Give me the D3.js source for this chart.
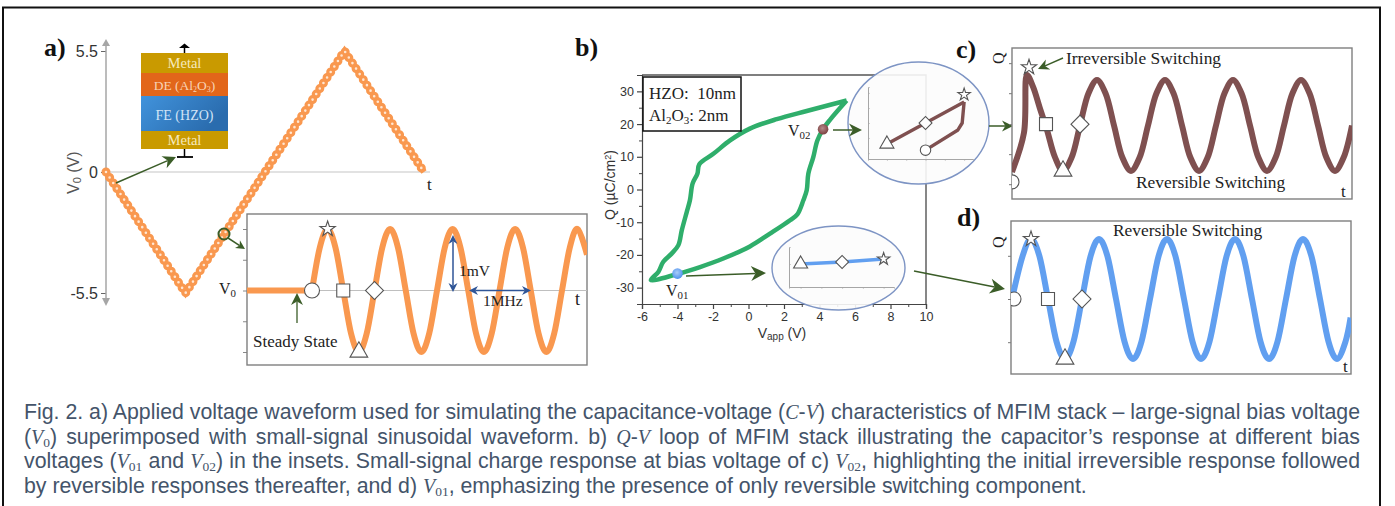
<!DOCTYPE html>
<html>
<head>
<meta charset="utf-8">
<script src="https://cdn.jsdelivr.net/npm/d3@7"></script>
<style>
  html, body { margin: 0; padding: 0; background: #fff; overflow: hidden; }
  #fig { position: absolute; left: 0; top: 0; }
  .cap { position: absolute; left: 24px; width: 1336px; height: 24px; line-height: 24px; font-family: "Liberation Sans", Arial, sans-serif; font-size: 21.3px; color: #44546a; text-align: justify; text-align-last: justify; }
  .cap.last { text-align: left; text-align-last: left; width: 1340px; }
  .cap i { font-family: "Liberation Serif", serif; font-size: 20px; }
  .cap sub { font-family: "Liberation Serif", serif; font-size: 13.5px; line-height: 0; vertical-align: -3px; }
</style>
</head>
<body>
<svg id="fig" width="1395" height="506"></svg>
<div class="cap" style="top:400px">Fig. 2. a) Applied voltage waveform used for simulating the capacitance-voltage (<i>C</i>-<i>V</i>) characteristics of MFIM stack – large-signal bias voltage</div>
<div class="cap" style="top:425px">(<i>V</i><sub>0</sub>) superimposed with small-signal sinusoidal waveform. b) <i>Q</i>-<i>V</i> loop of MFIM stack illustrating the capacitor’s response at different bias</div>
<div class="cap" style="top:449px">voltages (<i>V</i><sub>01</sub> and <i>V</i><sub>02</sub>) in the insets. Small-signal charge response at bias voltage of c) <i>V</i><sub>02</sub>, highlighting the initial irreversible response followed</div>
<div class="cap last" style="top:474px">by reversible responses thereafter, and d) <i>V</i><sub>01</sub>, emphasizing the presence of only reversible switching component.</div>
<script>
// panel a, large signal bias
var biasTime = [0, 1, 3, 4];
var biasVolt = [0, -5.5, 5.5, 0];
var biasTicks = [5.5, 0, -5.5];

// panel a inset, small signal in mV, t in cycles
var steadyTime = [-1.04, 0];
var steadyVolt = [0, 0];
var smallTime = [0, 0.125, 0.25, 0.375, 0.5, 0.625, 0.75, 0.875, 1, 1.125, 1.25, 1.375, 1.5, 1.625, 1.75, 1.875, 2, 2.125, 2.25, 2.375, 2.5, 2.625, 2.75, 2.875, 3, 3.125, 3.25, 3.375, 3.5, 3.625, 3.75, 3.875, 4, 4.125, 4.25, 4.4];
var smallVolt = [0, 0.35, 0.5, 0.35, 0, -0.35, -0.5, -0.35, 0, 0.35, 0.5, 0.35, 0, -0.35, -0.5, -0.35, 0, 0.35, 0.5, 0.35, 0, -0.35, -0.5, -0.35, 0, 0.35, 0.5, 0.35, 0, -0.35, -0.5, -0.35, 0, 0.35, 0.5, 0.29];
var smallTicks = [0.5, 0.25, 0, -0.25, -0.5];

// panel b, Q-V loop
var loopV = [5.53, 3.28, 1.59, 0.08, -1.04, -1.98, -2.77, -2.88, -3.15, -3.3, -3.48, -3.76, -3.95, -4.33, -4.8, -5.08, -5.5, -4.05, -2.73, -1.42, 0.08, 1.21, 2.34, 2.75, 3.09, 3.28, 3.37, 3.65, 3.88, 4.22, 4.59, 5.53];
var loopQ = [27.2, 24, 21.5, 18.6, 15, 10.9, 7.7, 4.8, 1.8, -3.3, -6.9, -12.5, -17, -19.6, -22.1, -25.2, -27.7, -25.9, -23.7, -21.1, -17.4, -13.5, -9.4, -7.6, -3.3, -0.25, 4.8, 9.9, 15, 18.6, 21.3, 27.2];
var vTicks = [-6, -4, -2, 0, 2, 4, 6, 8, 10];
var vMinor = [-5, -3, -1, 1, 3, 5, 7, 9];
var qTicks = [30, 20, 10, 0, -10, -20, -30];
var qMinor = [25, 15, 5, -5, -15, -25];
var v01 = [-4, -25.7];
var v02 = [4.2, 18.4];

// b insets
var upperV1 = [-1, 0, 1];
var upperQ1 = [-1, 0, 1];
var upperV2 = [0, 0.84, 0.95, 1];
var upperQ2 = [-1.29, -0.33, 0, 1];
var upperTickV = [-1, -0.5, 0, 0.5, 1];
var upperTickQ = [1.43, 0.71, 0, -0.71, -1.43];
var lowerV = [-1, 0, 1];
var lowerQ = [1.5, 2.5, 4];
var lowerTickV = [-1, -0.5, 0, 0.5, 1];
var lowerTickQ = [1.5];

// panel c, irreversible then reversible
var cTime = [0, 0.176, 0.22, 0.31, 0.41, 0.515, 0.63, 0.75, 0.875, 1, 1.125, 1.25, 1.375, 1.5, 1.625, 1.75, 1.875, 2, 2.125, 2.25, 2.375, 2.5, 2.625, 2.75, 2.875, 3, 3.125, 3.25, 3.375, 3.5, 3.625, 3.75, 3.875, 4, 4.125, 4.25, 4.375, 4.5, 4.625, 4.75, 4.875, 5];
var cQ = [-1.02, -0.16, 1.11, 0.85, 0.38, -0.1, -0.69, -1, -0.71, 0, 0.71, 1, 0.71, 0, -0.71, -1, -0.71, 0, 0.71, 1, 0.71, 0, -0.71, -1, -0.71, 0, 0.71, 1, 0.71, 0, -0.71, -1, -0.71, 0, 0.71, 1, 0.71, 0, -0.71, -1, -0.71, 0];
var cTicks = [1.37, 0.71, 0.03, -0.63, -1.29];

// panel d, reversible only
var dTime = [-0.03, 0.125, 0.25, 0.375, 0.5, 0.625, 0.75, 0.875, 1, 1.125, 1.25, 1.375, 1.5, 1.625, 1.75, 1.875, 2, 2.125, 2.25, 2.375, 2.5, 2.625, 2.75, 2.875, 3, 3.125, 3.25, 3.375, 3.5, 3.625, 3.75, 3.875, 4, 4.125, 4.25, 4.375, 4.5, 4.625, 4.75, 4.875, 4.95];
var dQ = [0, 0.71, 1, 0.71, 0, -0.71, -1, -0.71, 0, 0.71, 1, 0.71, 0, -0.71, -1, -0.71, 0, 0.71, 1, 0.71, 0, -0.71, -1, -0.71, 0, 0.71, 1, 0.71, 0, -0.71, -1, -0.71, 0, 0.71, 1, 0.71, 0, -0.71, -1, -0.71, -0.31];
var dTicks = [0.72, 0, -0.72];

var SERIF = '"Liberation Serif", "Times New Roman", serif';
var SANS = '"Liberation Sans", Arial, sans-serif';
var GREEN = "#3b5d28";
var BLUE = "#2f5597";
var ORANGE = "#f9984f";
var BROWN = "#7f5050";
var SKY = "#619ff0";

var svg = d3.select("#fig");
var defs = svg.append("defs");

// figure border, open at the bottom
svg.append("path")
    .attr("d", d3.line()([[3, 506], [3, 7.5], [1380, 7.5], [1380, 506]]))
    .attr("fill", "none").attr("stroke", "#111").attr("stroke-width", 2);

function zip(a, b) {
    return a.map(function (d, i) { return [d, b[i]]; });
}

function text(g, x, y, str, size, font, opts) {
    opts = opts || {};
    return g.append("text")
        .attr("x", x).attr("y", y)
        .attr("font-family", font || SERIF)
        .attr("font-size", size)
        .attr("fill", opts.fill || "#222")
        .attr("font-weight", opts.weight || null)
        .attr("text-anchor", opts.anchor || "start")
        .attr("transform", opts.rotate ? "rotate(" + opts.rotate + " " + x + " " + y + ")" : null)
        .text(str);
}

function withSub(g, x, y, base, sub, size) {
    var t = text(g, x, y, base, size);
    t.append("tspan").attr("dy", 3).attr("font-size", size * 0.68).text(sub);
    return t;
}

function arrow(g, x1, y1, x2, y2, color, w, head) {
    head = head || 13;
    var a = Math.atan2(y2 - y1, x2 - x1);
    var bx = x2 - Math.cos(a) * head * 0.7, by = y2 - Math.sin(a) * head * 0.7;
    g.append("line").attr("x1", x1).attr("y1", y1).attr("x2", bx).attr("y2", by)
        .attr("stroke", color).attr("stroke-width", w);
    var hw = head * 0.5;
    var p = [
        [x2, y2],
        [x2 - Math.cos(a) * head - Math.sin(a) * hw, y2 - Math.sin(a) * head + Math.cos(a) * hw],
        [bx, by],
        [x2 - Math.cos(a) * head + Math.sin(a) * hw, y2 - Math.sin(a) * head - Math.cos(a) * hw]
    ];
    g.append("path").attr("d", d3.line()(p) + "Z").attr("fill", color);
}

function marker(g, type, x, y, size, rot) {
    g.append("path")
        .attr("d", d3.symbol().type(type).size(size)())
        .attr("transform", "translate(" + x + "," + y + ")" + (rot ? " rotate(" + rot + ")" : ""))
        .attr("fill", "#fff")
        .attr("stroke", "#555")
        .attr("stroke-width", 1.1);
}

function clip(id, x, y, w, h) {
    defs.append("clipPath").attr("id", id).append("rect")
        .attr("x", x).attr("y", y).attr("width", w).attr("height", h);
    return "url(#" + id + ")";
}

function styleAxis(g, color, w, fontSize) {
    g.selectAll("path, line").attr("stroke", color).attr("stroke-width", w);
    g.selectAll("text").attr("font-family", SANS).attr("font-size", fontSize).attr("fill", "#333");
}

var wave = d3.line().curve(d3.curveCatmullRom.alpha(0));
var WAVE_W = 6;

// ---- a) bias waveform ----
var a = svg.append("g");
var xA = d3.scaleLinear().domain([0, 4]).range([106, 424]);
var yA = d3.scaleLinear().domain([-5.5, 5.5]).range([293, 51]);

a.append("line").attr("x1", 106).attr("x2", 430).attr("y1", yA(0)).attr("y2", yA(0))
    .attr("stroke", "#d9d9d9").attr("stroke-width", 1.3);
var axA = a.append("g").attr("transform", "translate(106,0)")
    .call(d3.axisLeft(yA).tickValues(biasTicks).tickSizeOuter(0).tickSize(5).tickPadding(3)
        .tickFormat(function (d) { return d; }));
axA.select(".domain").remove();
styleAxis(axA, "#666", 1, 16);
a.append("line").attr("x1", 106).attr("x2", 106).attr("y1", 42).attr("y2", 300)
    .attr("stroke", "#a6a6a6").attr("stroke-width", 1.5);
a.append("path").attr("d", "M106,39L102,46L110,46Z").attr("fill", "#a6a6a6");
a.append("path").attr("d", "M106,306L102,298L110,298Z").attr("fill", "#a6a6a6");

var biasPts = zip(biasTime.map(xA), biasVolt.map(yA));
var biasLine = d3.line()(biasPts);
a.append("path").attr("d", biasLine).attr("fill", "none").attr("stroke", ORANGE).attr("stroke-width", 6);
a.append("path").attr("d", biasLine).attr("fill", "none").attr("stroke", ORANGE).attr("stroke-width", 9)
    .attr("stroke-linecap", "round").attr("stroke-dasharray", "0 6.6");
a.append("path").attr("d", biasLine).attr("fill", "none").attr("stroke", "#ffe6d2").attr("stroke-width", 2.6)
    .attr("stroke-linecap", "round").attr("stroke-dasharray", "0 6.6");

text(a, 44, 56, "a)", 26, SERIF, { weight: "bold", fill: "#111" });
var v0Lab = text(a, 79, 194, "V", 16, SANS, { fill: "#555", rotate: -90 });
v0Lab.append("tspan").attr("font-size", 11).attr("dy", 2).text("0");
v0Lab.append("tspan").attr("dy", -2).text(" (V)");
text(a, 427, 190, "t", 17, SERIF, { fill: "#222" });

// stack
var stack = svg.append("g");
var fe = defs.append("linearGradient").attr("id", "feGrad").attr("x1", 0).attr("y1", 0).attr("x2", 1).attr("y2", 0.4);
fe.append("stop").attr("offset", "0%").attr("stop-color", "#4193dc");
fe.append("stop").attr("offset", "100%").attr("stop-color", "#2a6cae");
stack.append("rect").attr("x", 141).attr("y", 53).attr("width", 87).attr("height", 20).attr("fill", "#c99a00");
stack.append("rect").attr("x", 141).attr("y", 73).attr("width", 87).attr("height", 23).attr("fill", "#e2661a");
stack.append("rect").attr("x", 141).attr("y", 96).attr("width", 87).attr("height", 35).attr("fill", "url(#feGrad)");
stack.append("rect").attr("x", 141).attr("y", 131).attr("width", 87).attr("height", 18).attr("fill", "#c99a00");
text(stack, 184.5, 68, "Metal", 14.5, SERIF, { fill: "#f6e9bd", anchor: "middle" });
var deLab = text(stack, 184.5, 90, "DE (Al", 13.5, SERIF, { fill: "#f8d3b4", anchor: "middle" });
deLab.append("tspan").attr("font-size", 8).attr("dy", 2).text("2");
deLab.append("tspan").attr("dy", -2).text("O");
deLab.append("tspan").attr("font-size", 8).attr("dy", 2).text("3");
deLab.append("tspan").attr("dy", -2).text(")");
text(stack, 184.5, 120, "FE (HZO)", 14, SERIF, { fill: "#d2e4f6", anchor: "middle" });
text(stack, 184.5, 145, "Metal", 14.5, SERIF, { fill: "#f6e9bd", anchor: "middle" });
stack.append("line").attr("x1", 184.5).attr("x2", 184.5).attr("y1", 45).attr("y2", 53).attr("stroke", "#000").attr("stroke-width", 1.5);
stack.append("path").attr("d", "M179,48L184.5,43.5L190,48Z").attr("fill", "#000");
stack.append("line").attr("x1", 184.5).attr("x2", 184.5).attr("y1", 149).attr("y2", 157).attr("stroke", "#000").attr("stroke-width", 1.5);
stack.append("line").attr("x1", 177).attr("x2", 193).attr("y1", 157).attr("y2", 157).attr("stroke", "#000").attr("stroke-width", 1.8);
arrow(a, 116, 183, 176, 157, GREEN, 1.5, 13);

// ---- a) inset ----
var ai = svg.append("g");
var xI = d3.scaleLinear().domain([0, 4]).range([312, 562]);
var yI = d3.scaleLinear().domain([-0.5, 0.5]).range([352, 229]);
var axI = ai.append("g").attr("transform", "translate(247,0)")
    .call(d3.axisLeft(yI).tickValues(smallTicks).tickSize(4).tickFormat(""));
axI.select(".domain").remove();
styleAxis(axI, "#888", 1, 10);
ai.append("rect").attr("x", 247).attr("y", 214).attr("width", 340).attr("height", 151)
    .attr("fill", "#fff").attr("stroke", "#7f7f7f").attr("stroke-width", 1.4);
ai.append("line").attr("x1", 247).attr("x2", 587).attr("y1", yI(0)).attr("y2", yI(0))
    .attr("stroke", "#bfbfbf").attr("stroke-width", 1);
var clipI = clip("clipI", 247, 214, 340, 151);
ai.append("path").attr("d", d3.line()(zip(steadyTime.map(xI), steadyVolt.map(yI))))
    .attr("fill", "none").attr("stroke", ORANGE).attr("stroke-width", WAVE_W).attr("clip-path", clipI);
ai.append("path").attr("d", wave(zip(smallTime.map(xI), smallVolt.map(yI))))
    .attr("fill", "none").attr("stroke", ORANGE).attr("stroke-width", WAVE_W).attr("clip-path", clipI);
marker(ai, d3.symbolCircle, xI(0), yI(0), 177);
marker(ai, d3.symbolStar, xI(0.25), yI(0.5), 72);
marker(ai, d3.symbolSquare, xI(0.5), yI(0), 169);
marker(ai, d3.symbolTriangle, xI(0.75), yI(-0.5), 136);
marker(ai, d3.symbolSquare, xI(1), yI(0), 162, 45);

withSub(ai, 219, 294, "V", "0", 16);
text(ai, 253, 347, "Steady State", 17);
text(ai, 459, 276, "1mV", 15.5);
text(ai, 483, 306, "1MHz", 15.5);
text(ai, 575, 305, "t", 18);
arrow(ai, 297, 323, 297, 293, GREEN, 1.3, 12);
arrow(ai, 453, 264, 453, 235, BLUE, 1.5, 9);
arrow(ai, 453, 264, 453, 292, BLUE, 1.5, 9);
arrow(ai, 500, 290.5, 469, 290.5, BLUE, 1.5, 9);
arrow(ai, 500, 290.5, 531, 290.5, BLUE, 1.5, 9);
ai.append("circle").attr("cx", 224).attr("cy", 234).attr("r", 5.5)
    .attr("fill", "none").attr("stroke", GREEN).attr("stroke-width", 2);
arrow(ai, 228, 238, 245, 249, GREEN, 1.5, 9);

// ---- b) loop ----
var b = svg.append("g");
var xB = d3.scaleLinear().domain([-6, 10]).range([642, 926]);
var yB = d3.scaleLinear().domain([-35, 35]).range([304, 75]);

var bGrid = b.append("g");
bGrid.append("path").attr("d", d3.line()([[xB(-6), yB(35)], [xB(10), yB(35)], [xB(10), yB(-35)]]))
    .attr("fill", "none").attr("stroke", "#555").attr("stroke-width", 1.4);
var axBx = b.append("g").attr("transform", "translate(0," + yB(-35) + ")")
    .call(d3.axisBottom(xB).tickValues(vTicks).tickSizeOuter(0).tickSize(5).tickPadding(3)
        .tickFormat(function (d) { return d; }));
styleAxis(axBx, "#444", 1.2, 12.5);
var minorX = b.append("g").attr("transform", "translate(0," + yB(-35) + ")")
    .call(d3.axisBottom(xB).tickValues(vMinor).tickSizeOuter(0).tickSize(3).tickFormat(""));
minorX.select(".domain").remove();
styleAxis(minorX, "#444", 1, 10);
var axBy = b.append("g").attr("transform", "translate(" + xB(-6) + ",0)")
    .call(d3.axisLeft(yB).tickValues(qTicks).tickSizeOuter(0).tickSize(5).tickPadding(3)
        .tickFormat(function (d) { return d; }));
styleAxis(axBy, "#444", 1.2, 12.5);
var minorY = b.append("g").attr("transform", "translate(" + xB(-6) + ",0)")
    .call(d3.axisLeft(yB).tickValues(qMinor).tickSizeOuter(0).tickSize(3).tickFormat(""));
minorY.select(".domain").remove();
styleAxis(minorY, "#444", 1, 10);

b.append("path").attr("d", d3.line().curve(d3.curveCatmullRom.alpha(0.5))(zip(loopV.map(xB), loopQ.map(yB))))
    .attr("fill", "none").attr("stroke", "#2fae6b").attr("stroke-width", 4.5).attr("stroke-linejoin", "round");

function ball(id, c0, c1, pt) {
    var g = defs.append("radialGradient").attr("id", id).attr("cx", "45%").attr("cy", "40%").attr("r", "60%");
    g.append("stop").attr("offset", "0%").attr("stop-color", c0);
    g.append("stop").attr("offset", "100%").attr("stop-color", c1);
    b.append("circle").attr("cx", xB(pt[0])).attr("cy", yB(pt[1])).attr("r", 5.3).attr("fill", "url(#" + id + ")");
}
ball("ball1", "#a9ccf8", "#4f92ee", v01);
ball("ball2", "#b58a8a", "#7a3f3f", v02);
withSub(b, 666, 296, "V", "01", 16);
withSub(b, 788, 136, "V", "02", 16);

var xLab = text(b, 782, 338, "V", 14, SANS, { fill: "#333", anchor: "middle" });
xLab.append("tspan").attr("font-size", 10).attr("dy", 2).text("app");
xLab.append("tspan").attr("dy", -2).text(" (V)");
var qLab = text(b, 615, 185, "Q (µC/cm", 14, SANS, { fill: "#333", anchor: "middle", rotate: -90 });
qLab.append("tspan").attr("font-size", 9).attr("dy", -4).text("2");
qLab.append("tspan").attr("dy", 4).text(")");

b.append("rect").attr("x", 643).attr("y", 77).attr("width", 98).attr("height", 54)
    .attr("fill", "#fff").attr("stroke", "#111").attr("stroke-width", 1.5);
text(b, 649, 99, "HZO:  10nm", 17).attr("xml:space", "preserve");
var alLab = text(b, 649, 121, "Al", 17);
alLab.append("tspan").attr("font-size", 11).attr("dy", 3).text("2");
alLab.append("tspan").attr("dy", -3).text("O");
alLab.append("tspan").attr("font-size", 11).attr("dy", 3).text("3");
alLab.append("tspan").attr("dy", -3).text(":  2nm");

// upper inset circle
var up = svg.append("g");
up.append("ellipse").attr("cx", 918.5).attr("cy", 123).attr("rx", 70.5).attr("ry", 61)
    .attr("fill", "#fcfcfc").attr("fill-opacity", 0.9).attr("stroke", "#7d94c4").attr("stroke-width", 1.4);
var xU = d3.scaleLinear().domain([-1.49, 1.23]).range([868, 973]);
var yU = d3.scaleLinear().domain([-1.71, 1.71]).range([159, 87]);
var axUx = up.append("g").attr("transform", "translate(0,159)")
    .call(d3.axisBottom(xU).tickValues(upperTickV).tickSizeOuter(0).tickSize(1.5).tickFormat(""));
styleAxis(axUx, "#a6a6a6", 1, 8);
var axUy = up.append("g").attr("transform", "translate(868,0)")
    .call(d3.axisRight(yU).tickValues(upperTickQ).tickSizeOuter(0).tickSize(1.5).tickFormat(""));
styleAxis(axUy, "#a6a6a6", 1, 8);
up.append("path").attr("d", d3.line()(zip(upperV1.map(xU), upperQ1.map(yU))))
    .attr("fill", "none").attr("stroke", BROWN).attr("stroke-width", 3.4);
up.append("path").attr("d", d3.line()(zip(upperV2.map(xU), upperQ2.map(yU))))
    .attr("fill", "none").attr("stroke", BROWN).attr("stroke-width", 3.4).attr("stroke-linejoin", "round");
marker(up, d3.symbolTriangle, xU(-1), yU(-1), 85);
marker(up, d3.symbolSquare, xU(0), yU(0), 84, 45);
marker(up, d3.symbolCircle, xU(0), yU(-1.29), 85);
marker(up, d3.symbolStar, xU(1), yU(1.35), 48);

// lower inset circle
var low = svg.append("g");
low.append("ellipse").attr("cx", 838.5).attr("cy", 268).attr("rx", 66.5).attr("ry", 42)
    .attr("fill", "#fcfcfc").attr("fill-opacity", 0.9).attr("stroke", "#7d94c4").attr("stroke-width", 1.4);
var xL = d3.scaleLinear().domain([-1.28, 1.25]).range([789, 894]);
var yL = d3.scaleLinear().domain([-10, 10]).range([287, 247]);
var axLx = low.append("g").attr("transform", "translate(0,287)")
    .call(d3.axisBottom(xL).tickValues(lowerTickV).tickSizeOuter(0).tickSize(1.5).tickFormat(""));
styleAxis(axLx, "#a6a6a6", 1, 8);
var axLy = low.append("g").attr("transform", "translate(789,0)")
    .call(d3.axisRight(yL).tickValues(lowerTickQ).tickSizeOuter(0).tickSize(1.5).tickFormat(""));
styleAxis(axLy, "#a6a6a6", 1, 8);
low.append("path").attr("d", d3.line()(zip(lowerV.map(xL), lowerQ.map(yL))))
    .attr("fill", "none").attr("stroke", SKY).attr("stroke-width", 3.6);
marker(low, d3.symbolTriangle, xL(-1), yL(1.5), 85);
marker(low, d3.symbolSquare, xL(0), yL(2.5), 84, 45);
marker(low, d3.symbolStar, xL(1), yL(4), 48);

// connector arrows in b
arrow(svg, 686, 276, 766, 273, GREEN, 1.5, 15);
arrow(svg, 833, 130, 862, 130, GREEN, 1.5, 13);
arrow(svg, 989, 126, 1013, 126, GREEN, 1.5, 11);
arrow(svg, 914, 271, 1005, 289, GREEN, 1.6, 15);

text(svg, 575, 56, "b)", 26, SERIF, { weight: "bold", fill: "#111" });

// ---- c) ----
var c = svg.append("g");
var xC = d3.scaleLinear().domain([0, 5]).range([1012, 1352]);
var yC = d3.scaleLinear().domain([-1, 1]).range([171, 80]);
var axC = c.append("g").attr("transform", "translate(1012,0)")
    .call(d3.axisLeft(yC).tickValues(cTicks).tickSize(3).tickFormat(""));
axC.select(".domain").remove();
styleAxis(axC, "#777", 1, 8);
c.append("rect").attr("x", 1012).attr("y", 48).attr("width", 340).attr("height", 151)
    .attr("fill", "#fff").attr("stroke", "#7f7f7f").attr("stroke-width", 1.4);
var clipC = clip("clipC", 1012, 48, 340, 151);
c.append("path").attr("d", d3.line().curve(d3.curveCatmullRom.alpha(0.5))(zip(cTime.map(xC), cQ.map(yC))))
    .attr("fill", "none").attr("stroke", BROWN).attr("stroke-width", WAVE_W).attr("clip-path", clipC);
var cm = c.append("g").attr("clip-path", clipC);
marker(cm, d3.symbolCircle, xC(0), yC(-1.24), 154);
marker(c, d3.symbolStar, xC(0.25), yC(1.28), 72);
marker(c, d3.symbolSquare, xC(0.5), yC(0.03), 169);
marker(c, d3.symbolTriangle, xC(0.75), yC(-1), 136);
marker(c, d3.symbolSquare, xC(1), yC(0.03), 162, 45);
text(c, 956, 58, "c)", 26, SERIF, { weight: "bold", fill: "#111" });
text(c, 1004, 64, "Q", 16, SERIF, { rotate: -90 });
text(c, 1066, 64, "Irreversible Switching", 17.4);
text(c, 1136, 188, "Reversible Switching", 17.4);
text(c, 1341, 197, "t", 17);
arrow(c, 1063, 58, 1038, 69, GREEN, 1.4, 11);

// ---- d) ----
var d = svg.append("g");
var xD = d3.scaleLinear().domain([0, 5]).range([1014, 1354]);
var yD = d3.scaleLinear().domain([-1, 1]).range([359, 239]);
var axD = d.append("g").attr("transform", "translate(1011,0)")
    .call(d3.axisLeft(yD).tickValues(dTicks).tickSize(3).tickFormat(""));
axD.select(".domain").remove();
styleAxis(axD, "#777", 1, 8);
d.append("rect").attr("x", 1011).attr("y", 221).attr("width", 340).attr("height", 153)
    .attr("fill", "#fff").attr("stroke", "#7f7f7f").attr("stroke-width", 1.4);
var clipD = clip("clipD", 1011, 221, 340, 153);
d.append("path").attr("d", wave(zip(dTime.map(xD), dQ.map(yD))))
    .attr("fill", "none").attr("stroke", SKY).attr("stroke-width", WAVE_W).attr("clip-path", clipD);
var dm = d.append("g").attr("clip-path", clipD);
marker(dm, d3.symbolCircle, xD(0), yD(0), 154);
marker(d, d3.symbolStar, xD(0.25), yD(1), 72);
marker(d, d3.symbolSquare, xD(0.5), yD(0), 169);
marker(d, d3.symbolTriangle, xD(0.75), yD(-1), 136);
marker(d, d3.symbolSquare, xD(1), yD(0), 162, 45);
text(d, 957, 226, "d)", 26, SERIF, { weight: "bold", fill: "#111" });
text(d, 1004, 248, "Q", 16, SERIF, { rotate: -90 });
text(d, 1113, 236, "Reversible Switching", 17.4);
text(d, 1343, 372, "t", 17);
</script>
</body>
</html>
